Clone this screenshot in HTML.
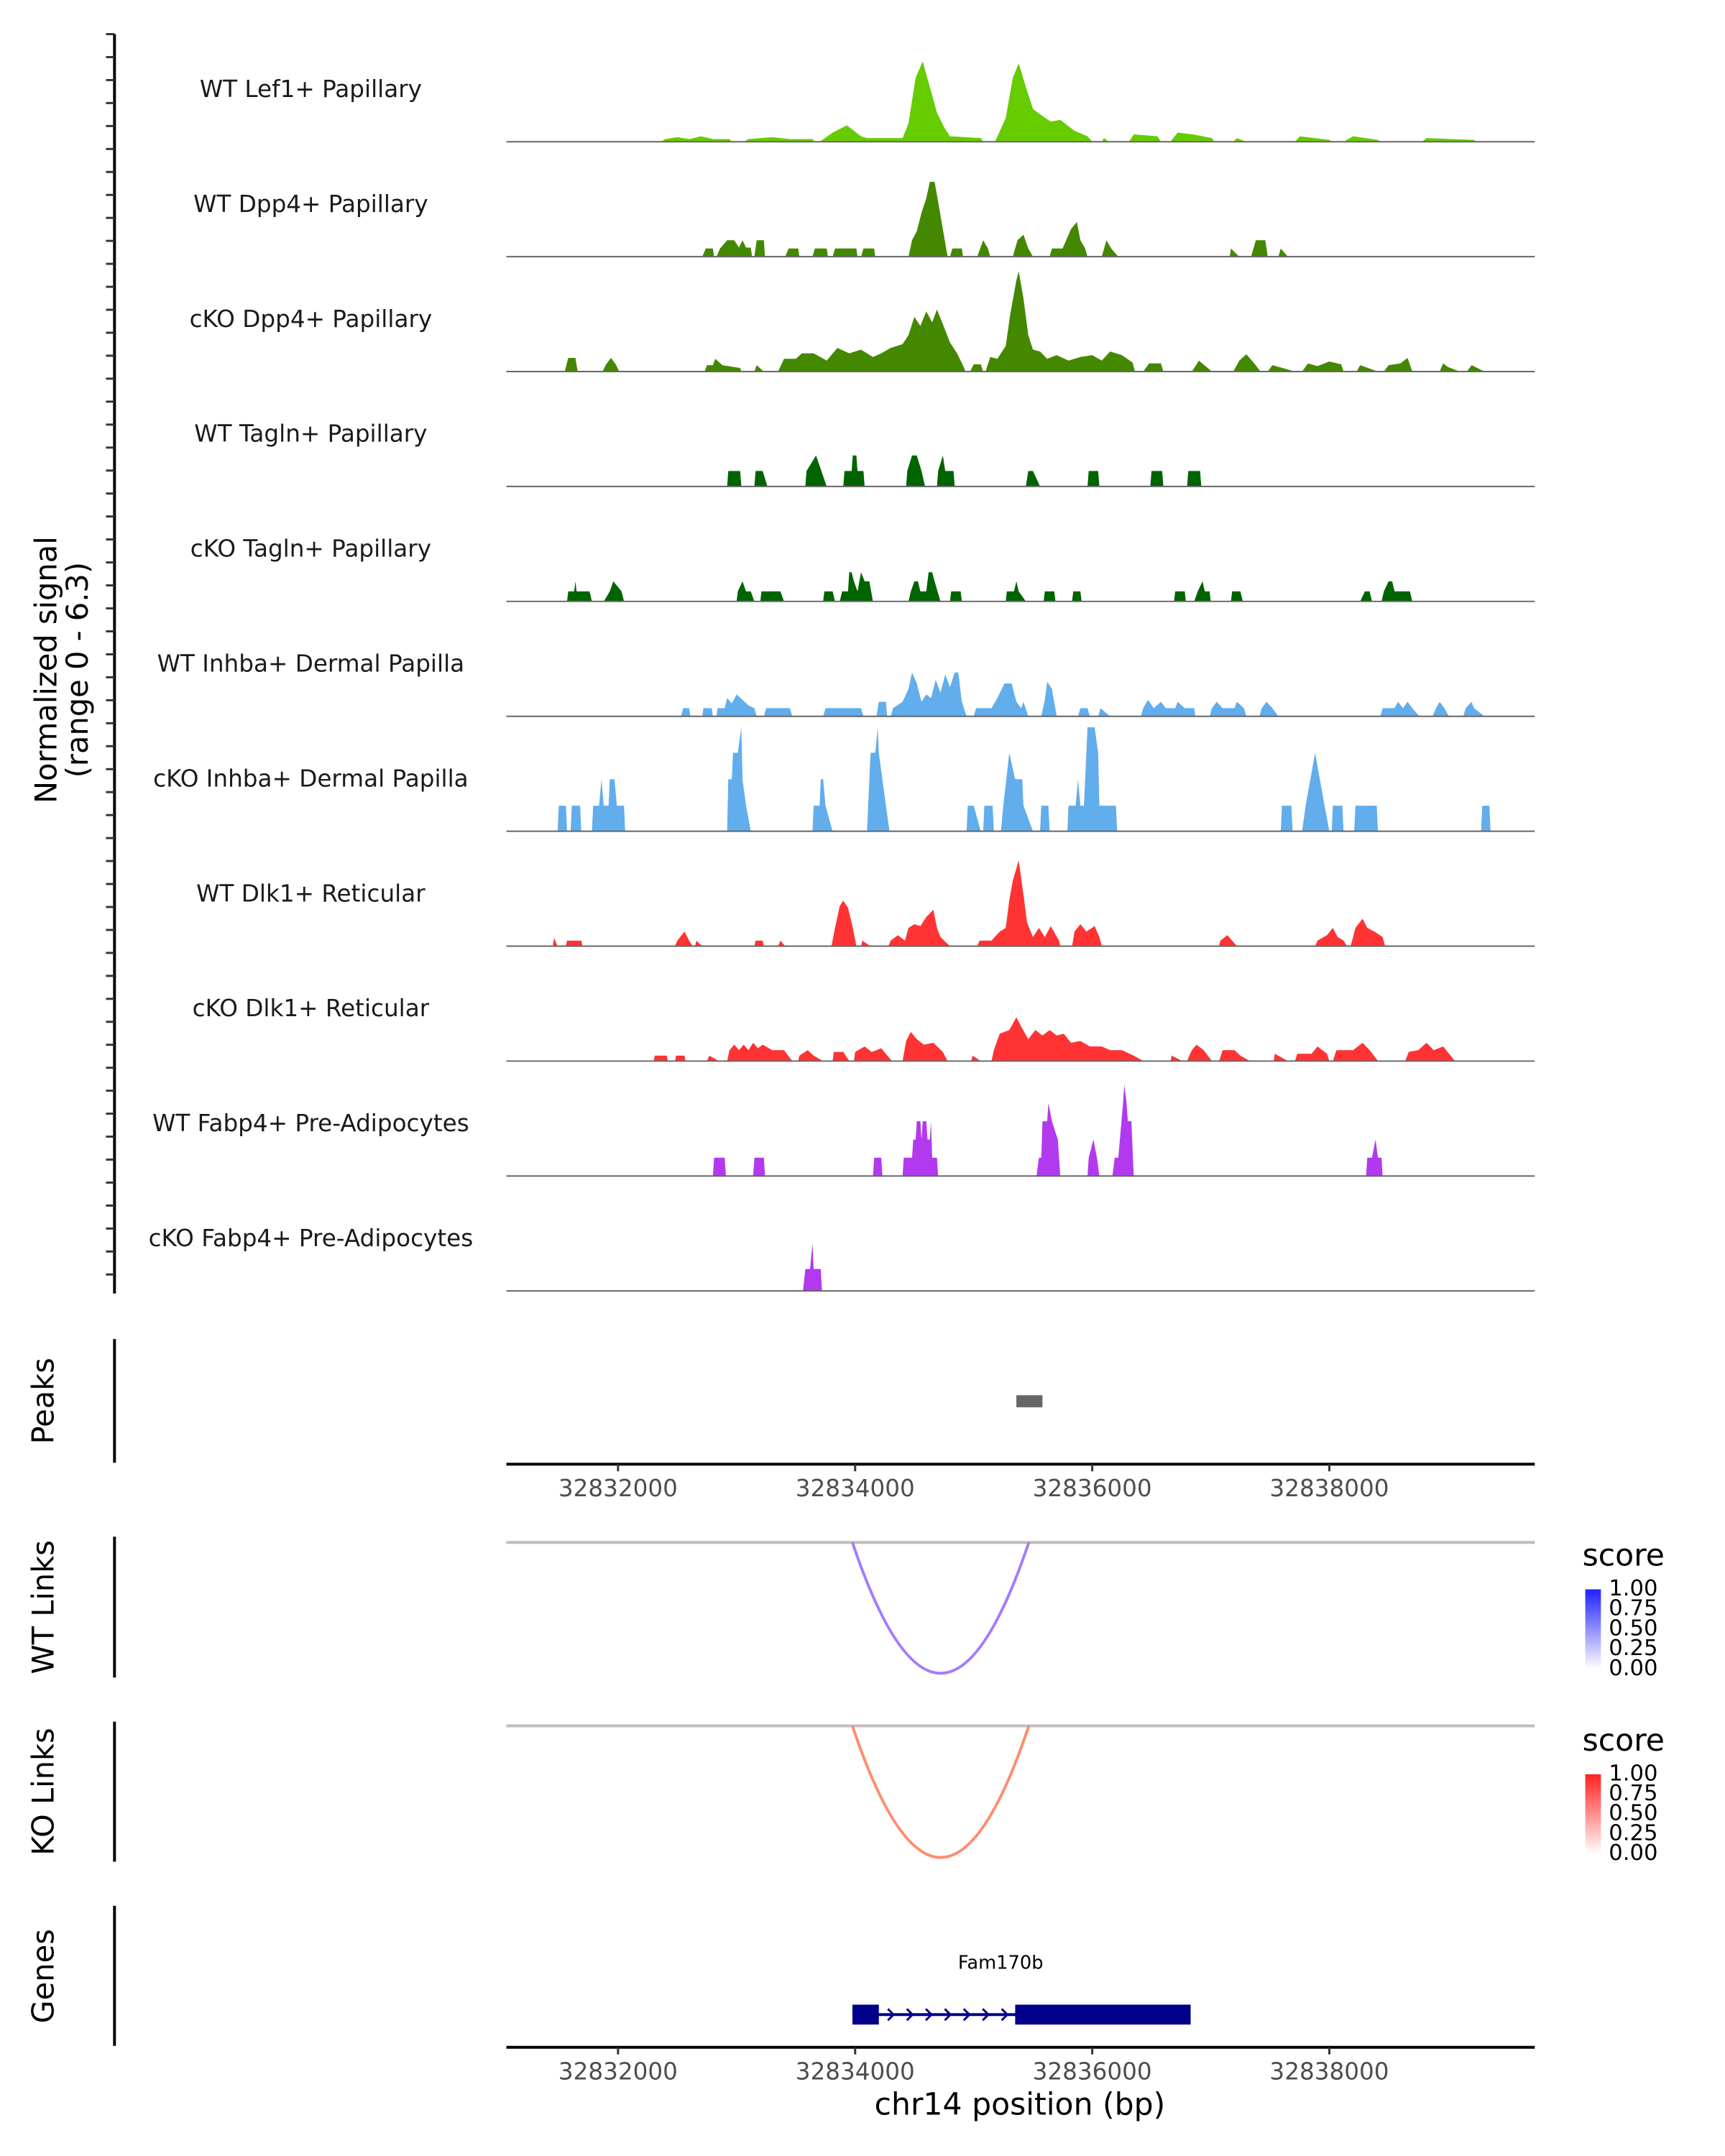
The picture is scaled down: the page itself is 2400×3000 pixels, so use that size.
<!DOCTYPE html>
<html><head><meta charset="utf-8"><style>
html,body{margin:0;padding:0;background:#fff;}
svg{display:block;font-family:"DejaVu Sans","Liberation Sans",sans-serif;}
</style></head><body>
<svg id="chart" width="2400" height="3000" viewBox="0 0 2400 3000" xmlns="http://www.w3.org/2000/svg">
<rect x="0" y="0" width="2400" height="3000" fill="#fff"/>
<g transform="scale(0.9895)">
<g id="tracks"></g>
<g id="axes"></g>
</g>
</svg>
<script>
// ---- data (positions in kb offset from 32,830,000 bp; values = normalized signal) ----
const trackNames = ["WT Lef1+ Papillary","WT Dpp4+ Papillary","cKO Dpp4+ Papillary","WT Tagln+ Papillary","cKO Tagln+ Papillary","WT Inhba+ Dermal Papilla","cKO Inhba+ Dermal Papilla","WT Dlk1+ Reticular","cKO Dlk1+ Reticular","WT Fabp4+ Pre-Adipocytes","cKO Fabp4+ Pre-Adipocytes"];
const trackColors = ["#66cc00","#448800","#448800","#006400","#006400","#62adec","#62adec","#ff3333","#ff3333","#b23aee","#b23aee"];
const xTicks = [32832000,32834000,32836000,32838000];
const yMax = 6.3;
const xDomain = [1.058, 9.733];
const lef1WT = [[2.36,0],[2.40,0.15],[2.50,0.25],[2.60,0.15],[2.70,0.3],[2.80,0.15],[2.94,0.15],[2.96,0],[3.06,0],[3.10,0.15],[3.30,0.25],[3.45,0.15],[3.64,0.15],[3.66,0],[3.70,0],[3.81,0.5],[3.93,0.9],[4.05,0.3],[4.10,0.2],[4.40,0.2],[4.45,1.0],[4.51,3.5],[4.57,4.4],[4.63,3.0],[4.69,1.6],[4.75,0.8],[4.80,0.3],[5.06,0.2],[5.08,0],[5.18,0],[5.27,1.3],[5.33,3.5],[5.38,4.3],[5.44,3.0],[5.50,1.8],[5.56,1.5],[5.65,1.1],[5.73,1.2],[5.85,0.6],[5.96,0.3],[6.00,0],[6.08,0],[6.10,0.2],[6.14,0],[6.31,0],[6.35,0.4],[6.55,0.3],[6.58,0],[6.66,0],[6.72,0.5],[6.85,0.4],[7.01,0.2],[7.03,0],[7.19,0],[7.22,0.2],[7.30,0],[7.71,0],[7.75,0.3],[8.00,0.1],[8.02,0],[8.12,0],[8.2,0.3],[8.41,0.1],[8.43,0],[8.78,0],[8.82,0.2],[9.22,0.1],[9.24,0]];
const dpp4WT = [[2.71,0],[2.74,0.45],[2.80,0.45],[2.81,0],[2.83,0],[2.86,0.45],[2.92,0.9],[2.98,0.9],[3.02,0.5],[3.05,0.9],[3.08,0.5],[3.12,0.5],[3.13,0],[3.15,0],[3.17,0.9],[3.23,0.9],[3.24,0],[3.41,0],[3.44,0.45],[3.52,0.45],[3.53,0],[3.64,0],[3.66,0.45],[3.76,0.45],[3.77,0],[3.81,0],[3.83,0.45],[4.01,0.45],[4.02,0],[4.05,0],[4.07,0.45],[4.16,0.45],[4.17,0],[4.45,0],[4.48,0.9],[4.52,1.4],[4.56,2.4],[4.60,3.2],[4.63,4.1],[4.67,4.1],[4.70,3.0],[4.74,1.5],[4.78,0],[4.80,0],[4.82,0.45],[4.90,0.45],[4.91,0],[5.03,0],[5.08,0.9],[5.12,0.45],[5.14,0],[5.33,0],[5.37,0.9],[5.42,1.2],[5.46,0.45],[5.50,0],[5.64,0],[5.66,0.45],[5.75,0.45],[5.78,0.9],[5.82,1.5],[5.87,1.9],[5.90,0.9],[5.94,0.45],[5.96,0],[6.08,0],[6.12,0.9],[6.16,0.45],[6.22,0],[7.16,0],[7.17,0.45],[7.24,0],[7.34,0],[7.38,0.9],[7.46,0.9],[7.48,0],[7.57,0],[7.59,0.45],[7.65,0]];
const dpp4KO = [[1.55,0],[1.58,0.75],[1.64,0.75],[1.66,0],[1.87,0],[1.90,0.4],[1.94,0.75],[1.98,0.4],[2.01,0],[2.73,0],[2.75,0.35],[2.80,0.35],[2.82,0.7],[2.88,0.35],[3.03,0.2],[3.04,0],[3.15,0],[3.17,0.35],[3.23,0],[3.35,0],[3.40,0.7],[3.50,0.7],[3.55,1.0],[3.65,1.0],[3.76,0.6],[3.85,1.3],[3.95,1.0],[4.05,1.2],[4.15,0.8],[4.22,1.0],[4.30,1.3],[4.40,1.5],[4.45,2.0],[4.50,3.0],[4.55,2.5],[4.60,3.3],[4.65,2.7],[4.69,3.4],[4.74,2.6],[4.80,1.6],[4.86,1.0],[4.92,0.2],[4.93,0],[4.97,0],[5.00,0.4],[5.06,0.4],[5.08,0],[5.10,0],[5.14,0.8],[5.20,0.7],[5.27,1.4],[5.31,3.2],[5.36,5.0],[5.38,5.5],[5.42,4.0],[5.46,2.0],[5.50,1.2],[5.56,1.1],[5.62,0.7],[5.70,0.9],[5.80,0.6],[5.90,0.8],[6.00,0.9],[6.08,0.6],[6.15,1.1],[6.25,0.9],[6.34,0.5],[6.36,0],[6.43,0],[6.48,0.45],[6.58,0.45],[6.60,0],[6.84,0],[6.90,0.6],[7.01,0],[7.19,0],[7.24,0.6],[7.30,0.95],[7.36,0.5],[7.42,0],[7.48,0],[7.52,0.35],[7.71,0],[7.77,0],[7.82,0.45],[7.9,0.3],[8.0,0.55],[8.1,0.4],[8.12,0],[8.23,0],[8.26,0.35],[8.41,0],[8.46,0],[8.5,0.35],[8.6,0.45],[8.66,0.75],[8.70,0],[8.93,0],[8.96,0.45],[9.0,0.25],[9.10,0],[9.16,0],[9.2,0.35],[9.31,0]];
const taglnWT = [[2.92,0],[2.93,0.85],[3.03,0.85],[3.04,0],[3.15,0],[3.16,0.85],[3.22,0.85],[3.26,0],[3.58,0],[3.59,0.85],[3.67,1.7],[3.76,0],[3.90,0],[3.91,0.85],[3.97,0.85],[3.98,1.7],[4.01,1.7],[4.02,0.85],[4.07,0.85],[4.08,0],[4.43,0],[4.44,0.85],[4.48,1.7],[4.52,1.7],[4.56,0.85],[4.59,0],[4.69,0],[4.70,0.85],[4.74,1.7],[4.76,0.85],[4.83,0.85],[4.84,0],[5.44,0],[5.46,0.85],[5.50,0.85],[5.56,0],[5.96,0],[5.97,0.85],[6.05,0.85],[6.06,0],[6.49,0],[6.50,0.85],[6.59,0.85],[6.60,0],[6.80,0],[6.81,0.85],[6.91,0.85],[6.92,0]];
const taglnKO = [[1.57,0],[1.58,0.55],[1.63,0.55],[1.64,1.1],[1.65,0.55],[1.76,0.55],[1.78,0],[1.88,0],[1.93,0.55],[1.96,1.1],[2.03,0.55],[2.05,0],[3.00,0],[3.01,0.55],[3.05,1.1],[3.08,0.55],[3.12,0.55],[3.15,0],[3.20,0],[3.21,0.55],[3.37,0.55],[3.40,0],[3.73,0],[3.74,0.55],[3.81,0.55],[3.83,0],[3.87,0],[3.89,0.55],[3.94,0.55],[3.95,1.6],[3.97,1.6],[3.99,1.1],[4.02,0.55],[4.05,1.6],[4.08,1.1],[4.12,1.1],[4.15,0],[4.45,0],[4.47,0.55],[4.50,1.1],[4.53,1.1],[4.55,0.55],[4.60,0.55],[4.62,1.6],[4.65,1.6],[4.67,1.1],[4.72,0],[4.80,0],[4.81,0.55],[4.89,0.55],[4.90,0],[5.27,0],[5.28,0.55],[5.34,0.55],[5.36,1.1],[5.38,0.55],[5.44,0],[5.59,0],[5.60,0.55],[5.68,0.55],[5.69,0],[5.83,0],[5.84,0.55],[5.90,0.55],[5.91,0],[6.69,0],[6.70,0.55],[6.78,0.55],[6.79,0],[6.86,0],[6.89,0.55],[6.93,1.1],[6.95,0.55],[6.99,0.55],[7.00,0],[7.17,0],[7.18,0.55],[7.25,0.55],[7.27,0],[8.26,0],[8.30,0.55],[8.34,0.55],[8.36,0],[8.44,0],[8.46,0.55],[8.50,1.1],[8.53,1.1],[8.55,0.55],[8.68,0.55],[8.70,0]];
const inhbaWT = [[2.53,0],[2.55,0.45],[2.60,0.45],[2.61,0],[2.71,0],[2.72,0.45],[2.79,0.45],[2.80,0],[2.83,0],[2.84,0.45],[2.90,0.45],[2.92,1.0],[2.96,0.7],[3.00,1.2],[3.05,0.9],[3.10,0.6],[3.15,0.45],[3.17,0],[3.23,0],[3.25,0.45],[3.45,0.45],[3.47,0],[3.73,0],[3.75,0.45],[4.05,0.45],[4.07,0],[4.18,0],[4.20,0.8],[4.26,0.8],[4.27,0],[4.30,0],[4.32,0.45],[4.40,0.8],[4.45,1.5],[4.48,2.4],[4.52,1.8],[4.56,0.8],[4.60,1.2],[4.64,1.0],[4.68,2.0],[4.72,1.3],[4.76,2.3],[4.80,1.6],[4.84,2.4],[4.87,2.4],[4.90,0.8],[4.94,0],[5.00,0],[5.02,0.45],[5.15,0.45],[5.20,1.0],[5.26,1.8],[5.32,1.8],[5.36,0.8],[5.40,0.45],[5.42,0.8],[5.46,0],[5.57,0],[5.60,0.9],[5.62,1.9],[5.66,1.5],[5.70,0],[5.88,0],[5.90,0.45],[5.96,0.45],[5.98,0],[6.05,0],[6.07,0.45],[6.15,0],[6.41,0],[6.43,0.45],[6.47,0.9],[6.52,0.45],[6.58,0.8],[6.62,0.45],[6.70,0.45],[6.72,0.8],[6.78,0.45],[6.86,0.45],[6.87,0],[6.99,0],[7.01,0.45],[7.05,0.8],[7.10,0.45],[7.20,0.45],[7.22,0.8],[7.28,0.45],[7.30,0],[7.41,0],[7.43,0.45],[7.47,0.8],[7.52,0.45],[7.57,0],[8.43,0],[8.45,0.45],[8.55,0.45],[8.58,0.8],[8.62,0.45],[8.66,0.8],[8.70,0.45],[8.76,0],[8.87,0],[8.90,0.45],[8.93,0.8],[8.97,0.45],[9.01,0],[9.13,0],[9.15,0.45],[9.20,0.8],[9.22,0.45],[9.31,0]];
const inhbaKO = [[1.49,0],[1.50,1.4],[1.56,1.4],[1.57,0],[1.60,0],[1.61,1.4],[1.68,1.4],[1.69,0],[1.78,0],[1.79,1.4],[1.84,1.4],[1.86,2.85],[1.88,1.4],[1.92,1.4],[1.93,2.85],[1.97,2.85],[1.99,1.4],[2.05,1.4],[2.06,0],[2.92,0],[2.93,2.85],[2.96,2.85],[2.97,4.3],[3.01,4.3],[3.04,5.7],[3.05,2.85],[3.08,1.4],[3.12,0],[3.64,0],[3.65,1.4],[3.70,1.4],[3.71,2.85],[3.73,2.85],[3.75,1.4],[3.81,0],[4.10,0],[4.11,1.4],[4.13,4.3],[4.17,4.3],[4.19,5.7],[4.20,4.3],[4.26,1.4],[4.29,0],[4.94,0],[4.95,1.4],[5.00,1.4],[5.06,0],[5.08,0],[5.09,1.4],[5.16,1.4],[5.17,0],[5.23,0],[5.25,1.4],[5.30,4.3],[5.35,2.85],[5.41,2.85],[5.42,1.4],[5.50,0],[5.56,0],[5.57,1.4],[5.63,1.4],[5.64,0],[5.79,0],[5.80,1.4],[5.86,1.4],[5.88,2.85],[5.90,1.4],[5.93,1.4],[5.94,2.85],[5.96,5.7],[6.02,5.7],[6.05,4.3],[6.06,1.4],[6.20,1.4],[6.21,0],[7.59,0],[7.60,1.4],[7.68,1.4],[7.69,0],[7.77,0],[7.80,1.4],[7.84,2.85],[7.88,4.3],[7.92,2.85],[7.96,1.4],[8.00,0],[8.02,0],[8.03,1.4],[8.11,1.4],[8.12,0],[8.21,0],[8.22,1.4],[8.40,1.4],[8.41,0],[9.28,0],[9.29,1.4],[9.35,1.4],[9.36,0]];
const dlk1WT = [[1.45,0],[1.46,0.45],[1.49,0],[1.56,0],[1.57,0.3],[1.69,0.3],[1.70,0],[2.48,0],[2.50,0.3],[2.56,0.8],[2.60,0.3],[2.63,0],[2.65,0],[2.66,0.3],[2.71,0],[3.15,0],[3.16,0.3],[3.22,0.3],[3.23,0],[3.35,0],[3.37,0.3],[3.41,0],[3.80,0],[3.83,1.0],[3.87,2.2],[3.90,2.5],[3.94,2.1],[3.98,1.0],[4.01,0],[4.05,0],[4.06,0.3],[4.13,0],[4.28,0],[4.30,0.3],[4.36,0.6],[4.42,0.3],[4.45,1.0],[4.50,1.2],[4.55,1.1],[4.60,1.6],[4.66,2.0],[4.69,1.0],[4.72,0.5],[4.80,0],[5.03,0],[5.05,0.3],[5.15,0.3],[5.22,0.8],[5.27,1.0],[5.30,2.5],[5.33,3.6],[5.38,4.7],[5.42,2.8],[5.45,1.3],[5.50,0.5],[5.55,1.0],[5.60,0.5],[5.65,1.1],[5.72,0.3],[5.73,0],[5.83,0],[5.85,0.8],[5.90,1.2],[5.95,0.8],[6.02,1.1],[6.06,0.5],[6.08,0],[7.07,0],[7.08,0.3],[7.14,0.6],[7.18,0.3],[7.22,0],[7.88,0],[7.90,0.3],[7.98,0.6],[8.03,1.0],[8.07,0.5],[8.12,0.3],[8.15,0],[8.18,0],[8.22,1.0],[8.28,1.5],[8.32,1.0],[8.38,0.8],[8.45,0.5],[8.47,0]];
const dlk1KO = [[2.30,0],[2.31,0.3],[2.41,0.3],[2.42,0],[2.48,0],[2.49,0.3],[2.56,0.3],[2.57,0],[2.75,0],[2.77,0.3],[2.85,0],[2.92,0],[2.94,0.6],[2.98,0.9],[3.02,0.6],[3.06,0.9],[3.10,0.6],[3.14,1.0],[3.18,0.7],[3.22,0.9],[3.30,0.6],[3.40,0.6],[3.47,0],[3.52,0],[3.53,0.3],[3.60,0.6],[3.65,0.3],[3.73,0],[3.81,0],[3.82,0.5],[3.90,0.5],[3.95,0],[3.99,0],[4.00,0.5],[4.08,0.8],[4.14,0.5],[4.22,0.7],[4.31,0],[4.40,0],[4.43,1.1],[4.47,1.6],[4.52,1.2],[4.58,0.9],[4.66,1.0],[4.74,0.5],[4.78,0],[4.98,0],[4.99,0.3],[5.06,0],[5.15,0],[5.17,0.6],[5.22,1.5],[5.30,1.7],[5.36,2.4],[5.40,1.9],[5.46,1.2],[5.52,1.7],[5.58,1.4],[5.64,1.7],[5.70,1.4],[5.76,1.5],[5.82,1.0],[5.90,1.1],[5.98,0.8],[6.08,0.8],[6.15,0.6],[6.25,0.6],[6.35,0.3],[6.43,0],[6.66,0],[6.67,0.3],[6.76,0],[6.80,0],[6.84,0.6],[6.88,0.9],[6.94,0.6],[7.01,0],[7.07,0],[7.10,0.6],[7.20,0.6],[7.25,0.3],[7.33,0],[7.53,0],[7.54,0.4],[7.65,0],[7.71,0],[7.73,0.4],[7.85,0.4],[7.90,0.8],[7.98,0.4],[8.00,0],[8.03,0],[8.06,0.6],[8.20,0.6],[8.28,1.0],[8.34,0.6],[8.41,0],[8.64,0],[8.67,0.5],[8.75,0.6],[8.82,1.0],[8.88,0.6],[8.96,0.8],[9.06,0]];
const fabp4WT = [[2.80,0],[2.81,1.0],[2.90,1.0],[2.91,0],[3.14,0],[3.15,1.0],[3.23,1.0],[3.24,0],[4.15,0],[4.16,1.0],[4.22,1.0],[4.23,0],[4.40,0],[4.41,1.0],[4.48,1.0],[4.49,2.0],[4.51,2.0],[4.52,3.0],[4.55,3.0],[4.56,2.0],[4.57,3.0],[4.60,3.0],[4.61,2.0],[4.63,2.0],[4.64,3.0],[4.65,1.0],[4.69,1.0],[4.70,0],[5.53,0],[5.55,1.0],[5.57,1.0],[5.58,3.0],[5.62,3.0],[5.63,4.0],[5.66,3.0],[5.71,2.0],[5.73,0],[5.96,0],[5.97,1.0],[5.99,1.5],[6.01,2.0],[6.04,1.0],[6.06,0],[6.17,0],[6.19,1.0],[6.22,1.0],[6.26,4.0],[6.27,5.0],[6.29,4.0],[6.30,3.0],[6.33,3.0],[6.35,0],[8.31,0],[8.32,1.0],[8.36,1.0],[8.39,2.0],[8.41,1.0],[8.44,1.0],[8.45,0]];
const fabp4KO = [[3.56,0],[3.58,1.2],[3.62,1.2],[3.64,2.6],[3.65,1.2],[3.71,1.2],[3.72,0]];
const peakRanges = [[5.36,5.58]];
const linkWT = [[3.977,5.465,0.6]];
const linkKO = [[3.977,5.465,0.6]];
const geneExons = [[3.977,4.20],[5.35,6.83]];
const geneSpan = [3.977,6.83];

// ---- layout ----
const NS="http://www.w3.org/2000/svg";
const X0=712, X1=2158;
const firstBase=199.3, trackStep=161.6, trackH=161.6;
function xs(kb){return X0+(kb-xDomain[0])/(xDomain[1]-xDomain[0])*(X1-X0);}
function xbp(bp){return xs(bp/1000-32830);}
function ys(i,v){return firstBase+i*trackStep - v/yMax*trackH;}
function mk(tag,attrs,parent){const e=document.createElementNS(NS,tag);for(const k in attrs)e.setAttribute(k,attrs[k]);parent.appendChild(e);return e;}
const gT=document.getElementById('tracks');
const gA=document.getElementById('axes');
const series=[lef1WT,dpp4WT,dpp4KO,taglnWT,taglnKO,inhbaWT,inhbaKO,dlk1WT,dlk1KO,fabp4WT,fabp4KO];
const slug=["wt-lef1","wt-dpp4","cko-dpp4","wt-tagln","cko-tagln","wt-inhba","cko-inhba","wt-dlk1","cko-dlk1","wt-fabp4","cko-fabp4"];
series.forEach((pts,i)=>{
  const base=ys(i,0);
  let d="M"+xs(pts[0][0]).toFixed(1)+","+base.toFixed(1);
  pts.forEach(p=>{d+=" L"+xs(p[0]).toFixed(1)+","+ys(i,p[1]).toFixed(1);});
  d+=" L"+xs(pts[pts.length-1][0]).toFixed(1)+","+base.toFixed(1)+" Z";
  const a=mk('path',{d:d,fill:trackColors[i]},gT);
  
  
  const bl=mk('line',{x1:X0,x2:X1,y1:base,y2:base,stroke:'#666',"stroke-width":2},gT);
  
  
  const t=mk('text',{x:437,y:base-72,"font-size":33,"text-anchor":"middle","dominant-baseline":"middle",fill:'#1a1a1a'},gT);
  t.textContent=trackNames[i];
  
  
});
let l=mk('line',{x1:161,x2:161,y1:48,y2:1819,stroke:'#000',"stroke-width":4},gA);


for(let y=48;y<=1819;y+=32.3){
  const tk=mk('line',{x1:149,x2:161,y1:y,y2:y,stroke:'#333',"stroke-width":3},gA);
  
  
}
function rotText(txt,x,y,size,name){
  const t=mk('text',{x:x,y:y,"font-size":size,"text-anchor":"middle","dominant-baseline":"middle",transform:`rotate(-90 ${x} ${y})`,fill:'#000'},gA);
  t.textContent=txt;
  
  
}
rotText("Normalized signal",68,942,42,'y-axis-title');
rotText("(range 0 - 6.3)",112,942,42,'y-axis-range');
l=mk('line',{x1:161,x2:161,y1:1883,y2:2057,stroke:'#000',"stroke-width":4},gA);


rotText("Peaks",64,1970,42,'peaks-track-title');
peakRanges.forEach(r=>{
  const p=mk('rect',{x:xs(r[0]),y:1962,width:xs(r[1])-xs(r[0]),height:17,fill:'#666'},gA);
  
  
});
function xAxis(y,name){
  const ax=mk('line',{x1:X0,x2:X1,y1:y,y2:y,stroke:'#000',"stroke-width":4},gA);
  
  
  xTicks.forEach(v=>{
    const x=xbp(v);
    const tk=mk('line',{x1:x,x2:x,y1:y,y2:y+10,stroke:'#333',"stroke-width":3},gA);
    
    
    const t=mk('text',{x:x,y:y+36,"font-size":33,"text-anchor":"middle","dominant-baseline":"middle",fill:'#4d4d4d'},gA);
    t.textContent=String(v);
    
    
  });
}
xAxis(2059,'peaks-x-axis');
function linkPanel(top,bottom,axTop,axBot,label,color,links,name){
  const a=mk('line',{x1:161,x2:161,y1:axTop,y2:axBot,stroke:'#000',"stroke-width":4},gA);
  
  
  rotText(label,64,(axTop+axBot)/2,42,name+'-track-title');
  const b=mk('line',{x1:X0,x2:X1,y1:top,y2:top,stroke:'#bebebe',"stroke-width":4},gA);
  
  
  links.forEach(k=>{
    const xa=xs(k[0]), xb=xs(k[1]), xm=(xa+xb)/2;
    const cy=2*bottom-top;
    const p=mk('path',{d:`M${xa},${top} Q${xm},${cy} ${xb},${top}`,fill:'none',stroke:color,"stroke-width":4},gA);
    
    
  });
}
linkPanel(2169,2353,2161,2359,"WT Links","#a57bff",linkWT,'wt-links');
linkPanel(2427,2612,2421,2618,"KO Links","#ff8c70",linkKO,'ko-links');
function legend(y0,c1,name){
  const t=mk('text',{x:2225,y:y0,"font-size":43,fill:'#000',"dominant-baseline":"middle"},gA);
  t.textContent="score";
  
  
  const id=name+'-grad';
  const defs=mk('defs',{},gA);
  const g=mk('linearGradient',{id:id,x1:0,y1:1,x2:0,y2:0},defs);
  mk('stop',{offset:0,"stop-color":'#ffffff'},g);
  mk('stop',{offset:1,"stop-color":c1},g);
  const r=mk('rect',{x:2229,y:y0+45,width:22,height:112,fill:`url(#${id})`},gA);
  
  
  ["1.00","0.75","0.50","0.25","0.00"].forEach((s,j)=>{
    const ty=y0+45+j*28;
    const tx=mk('text',{x:2262,y:ty,"font-size":31,fill:'#000',"dominant-baseline":"middle"},gA);
    tx.textContent=s;
    
    
  });
}
legend(2190,'#2020ff','wt-score-legend');
legend(2450,'#ff2020','ko-score-legend');
l=mk('line',{x1:161,x2:161,y1:2680,y2:2877,stroke:'#000',"stroke-width":4},gA);


rotText("Genes",64,2779,42,'genes-track-title');
const gl=mk('line',{x1:xs(geneSpan[0]),x2:xs(geneSpan[1]),y1:2833,y2:2833,stroke:'#00008b',"stroke-width":4},gA);


for(let k=geneExons[0][1]+0.1;k<geneExons[1][0];k+=0.16){
  const x=xs(k);
  const c=mk('path',{d:`M${x-4},${2825} L${x+4},${2833} L${x-4},${2841}`,fill:'none',stroke:'#00008b',"stroke-width":3},gA);
  
  
}
geneExons.forEach(e=>{
  const r=mk('rect',{x:xs(e[0]),y:2819,width:xs(e[1])-xs(e[0]),height:28,fill:'#00008b'},gA);
  
  
});
const gt=mk('text',{x:1407,y:2761,"font-size":26,"text-anchor":"middle","dominant-baseline":"middle",fill:'#000'},gA);
gt.textContent="Fam170b";


xAxis(2879,'genes-x-axis');
const xt=mk('text',{x:1434,y:2962,"font-size":43,"text-anchor":"middle","dominant-baseline":"middle",fill:'#000'},gA);
xt.textContent="chr14 position (bp)";


</script>
</body></html>
